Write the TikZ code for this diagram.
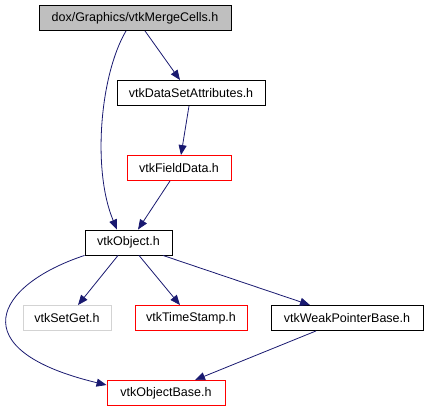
\documentclass[tikz,border=0pt]{standalone}
\usepackage{fontspec}
\setmainfont{Liberation Sans}
\usepackage{xcolor}
\usetikzlibrary{arrows.meta}
\definecolor{edgeblue}{RGB}{25,25,112}
\definecolor{headgray}{RGB}{191,191,191}
\definecolor{grayline}{RGB}{211,211,211}

\begin{document}
\begin{tikzpicture}[
      x=1pt, y=-1pt,
      box/.style={rectangle, draw=black, fill=white, line width=0.9pt, minimum height=25pt, inner xsep=2pt, font=\fontsize{12.5}{14}\selectfont},
      redbox/.style={box, draw=red},
      graybox/.style={box, draw=grayline},
      arrow/.style={-{Triangle[length=10pt,width=8pt,fill=edgeblue]}, draw=edgeblue, line width=0.8pt}
    ]
      \useasboundingbox (0,0) rectangle (427,411);

      % Components
      \node[box, fill=headgray, minimum width=192pt] (merge) at (135,18) {dox/Graphics/vtkMergeCells.h};
      \node[box, minimum width=148pt] (attributes) at (191,93) {vtkDataSetAttributes.h};
      \node[redbox, minimum width=104pt] (fielddata) at (179,168) {vtkFieldData.h};
      \node[box, minimum width=87pt] (object) at (128.5,242.5) {vtkObject.h};
      \node[graybox, minimum width=88pt] (setget) at (67,318) {vtkSetGet.h};
      \node[redbox, minimum width=112pt] (timestamp) at (191,318) {vtkTimeStamp.h};
      \node[box, minimum width=152pt] (weakbase) at (347,318) {vtkWeakPointerBase.h};
      \node[redbox, minimum width=118pt] (objectbase) at (166,393) {vtkObjectBase.h};

      % Arrows
      \draw[arrow] (merge.south -| 145,0) -- (attributes.north -| 180,0);
      \draw[arrow] (merge.south -| 126,0) .. controls (100,75) and (92,170) .. (object.north -| 117,0);
      \draw[arrow] (attributes.south -| 189,0) -- (fielddata.north -| 181,0);
      \draw[arrow] (fielddata.south -| 170,0) -- (object.north -| 138,0);
      \draw[arrow] (object.south -| 118,0) -- (setget.north -| 78,0);
      \draw[arrow] (object.south -| 139,0) -- (timestamp.north -| 180,0);
      \draw[arrow] (object.south -| 163,0) -- (weakbase.north -| 310,0);
      \draw[arrow] (object.south west) .. controls (-5,285) and (-40,350) .. (objectbase.west |- 0,385);
      \draw[arrow] (weakbase.south -| 316,0) -- (objectbase.north -| 195,0);

    \end{tikzpicture}
\end{document}
